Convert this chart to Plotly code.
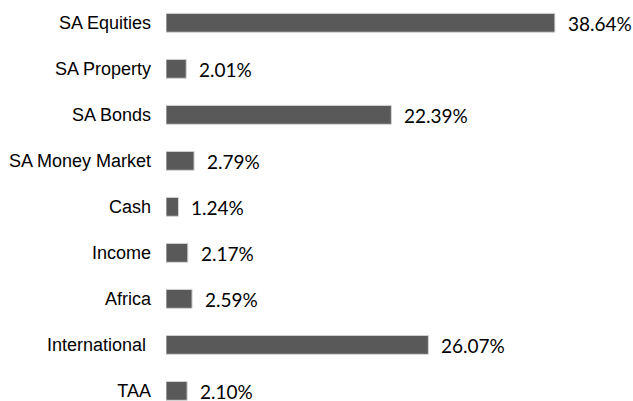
import plotly.graph_objects as go

categories = ["SA Equities", "SA Property", "SA Bonds", "SA Money Market", "Cash",
              "Income", "Africa", "International ", "TAA"]
values = [38.64, 2.01, 22.39, 2.79, 1.24, 2.17, 2.59, 26.07, 2.10]
value_labels = ["38.64%", "2.01%", "22.39%", "2.79%", "1.24%", "2.17%", "2.59%", "26.07%", "2.10%"]

fig = go.Figure()
fig.add_trace(go.Bar(
    x=values, y=categories, orientation="h",
    marker=dict(color="#595959", line=dict(color="#d4d4d4", width=1)),
    width=0.41,
    hoverinfo="skip",
))

for c, v, t in zip(categories, values, value_labels):
    fig.add_annotation(x=v, y=c, text=t, showarrow=False, xanchor="left",
                       xshift=11, yshift=-1,
                       font=dict(family="Lato", size=19, color="#000000"))

fig.update_layout(
    width=633, height=401,
    margin=dict(l=166, r=0, t=0, b=0, autoexpand=False),
    paper_bgcolor="white", plot_bgcolor="white",
    showlegend=False,
    xaxis=dict(range=[0, 46.4], visible=False, fixedrange=True, automargin=False),
    yaxis=dict(
        type="category", automargin=False, fixedrange=True,
        categoryorder="array", categoryarray=categories,
        range=[8.22, -0.496],
        showgrid=False, zeroline=False, showline=False,
        ticks="", ticklabelstandoff=14,
        tickfont=dict(family="Liberation Sans, Arial", size=18, color="#000000"),
    ),
)

fig.write_html("out.html",
               config={"displayModeBar": False, "staticPlot": True},
               post_script="document.body.style.margin='0';document.body.style.overflow='hidden';")
